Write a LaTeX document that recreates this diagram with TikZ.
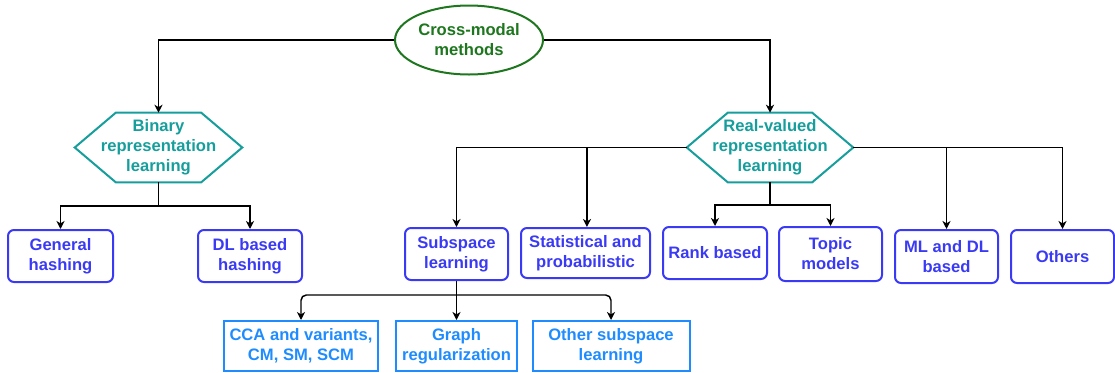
\documentclass[tikz,border=0pt]{standalone}
\usepackage{fontspec}
\setmainfont{Liberation Sans}
\usetikzlibrary{shapes.geometric,arrows.meta,calc}

\definecolor{rootgreen}{RGB}{30,118,30}
\definecolor{hexteal}{RGB}{22,158,156}
\definecolor{boxblue}{RGB}{58,58,245}
\definecolor{leafblue}{RGB}{30,140,255}

\tikzset{
  base/.style={align=center, inner sep=0pt,
    font=\bfseries\fontsize{12.45}{15}\selectfont},
  rootnode/.style={base, ellipse, draw=rootgreen, text=rootgreen,
    line width=1.5pt, minimum width=111pt, minimum height=51.75pt},
  hexnode/.style={base, text=hexteal, minimum height=51.75pt},
  hexline/.style={draw=hexteal, line width=1.5pt, line join=miter},
  catbox/.style={base, draw=boxblue, text=boxblue, line width=1.5pt,
    rounded corners=4.5pt},
  leafbox/.style={base, draw=leafblue, text=leafblue, line width=1.5pt,
    minimum height=37.5pt},
  conn/.style={draw=black, line width=1.1pt,
    -{Stealth[length=6pt,width=6pt,inset=1.8pt]}},
  trunk/.style={draw=black, line width=1.1pt},
}

\begin{document}
\begin{tikzpicture}[x=0.75pt, y=-0.75pt]
\useasboundingbox (0,0) rectangle (1115,372);

% root
\node[rootnode] (root) at (469,40) {Cross-modal\\methods};

% hexagonal category nodes
\node[hexnode, minimum width=125.25pt] (bin) at (158.5,147.5)
  {Binary\\representation\\learning};
\node[hexnode, minimum width=124.5pt] (real) at (770,147.5)
  {Real-valued\\representation\\learning};
\foreach \h in {bin,real}{
  \draw[hexline] (\h.west) -- ($(\h.north west)+(41,0)$)
    -- ($(\h.north east)+(-41,0)$) -- (\h.east)
    -- ($(\h.south east)+(-41,0)$) -- ($(\h.south west)+(41,0)$) -- cycle;
}

% binary branch
\node[catbox, minimum width=78.75pt, minimum height=39pt] (gen) at (60.5,256) {General\\hashing};
\node[catbox, minimum width=78pt, minimum height=39pt] (dlh) at (250,256) {DL based\\hashing};

% real-valued branch
\node[catbox, minimum width=77.25pt, minimum height=39pt] (sub) at (456.5,254) {Subspace\\learning};
\node[catbox, minimum width=96.75pt, minimum height=37.5pt] (stat) at (585.5,253) {Statistical and\\probabilistic};
\node[catbox, minimum width=78pt, minimum height=39pt] (rank) at (715,253) {Rank based};
\node[catbox, minimum width=77.25pt, minimum height=40.5pt] (topic) at (830.5,254) {Topic\\models};
\node[catbox, minimum width=77.25pt, minimum height=39.75pt] (mldl) at (946.5,256.5) {ML and DL\\based};
\node[catbox, minimum width=77.25pt, minimum height=39.75pt] (oth) at (1062.5,256.5) {Others};

% subspace learning leaves
\node[leafbox, minimum width=115.5pt] (cca) at (301,346) {CCA and variants,\\CM, SM, SCM};
\node[leafbox, minimum width=90.75pt] (graph) at (456.5,346) {Graph\\regularization};
\node[leafbox, minimum width=117.75pt] (osub) at (611,346) {Other subspace\\learning};

% connectors from the root
\draw[conn] (root.west) -| (bin.north);
\draw[conn] (root.east) -| (real.north);

% binary children
\coordinate (bj) at (158.5,206);
\draw[trunk] (bin.south) -- (bj);
\draw[conn] (bj) -| (gen.north);
\draw[conn] (bj) -| (dlh.north);

% real-valued children
\draw[conn] (real.west) -| (sub.north);
\draw[conn] (real.west) -| ([xshift=1.1pt]stat.north);
\coordinate (rj) at (770,205);
\draw[trunk] (real.south) -- (rj);
\draw[conn] (rj) -| (rank.north);
\draw[conn] (rj) -| (topic.north);
\draw[conn] (real.east) -| (mldl.north);
\draw[conn] (real.east) -| (oth.north);

% subspace children
\coordinate (sj) at (456.5,295);
\draw[conn] (sub.south) -- (graph.north);
\draw[conn, rounded corners=4pt] (sj) -| (cca.north);
\draw[conn, rounded corners=4pt] (sj) -| (osub.north);
\end{tikzpicture}
\end{document}
